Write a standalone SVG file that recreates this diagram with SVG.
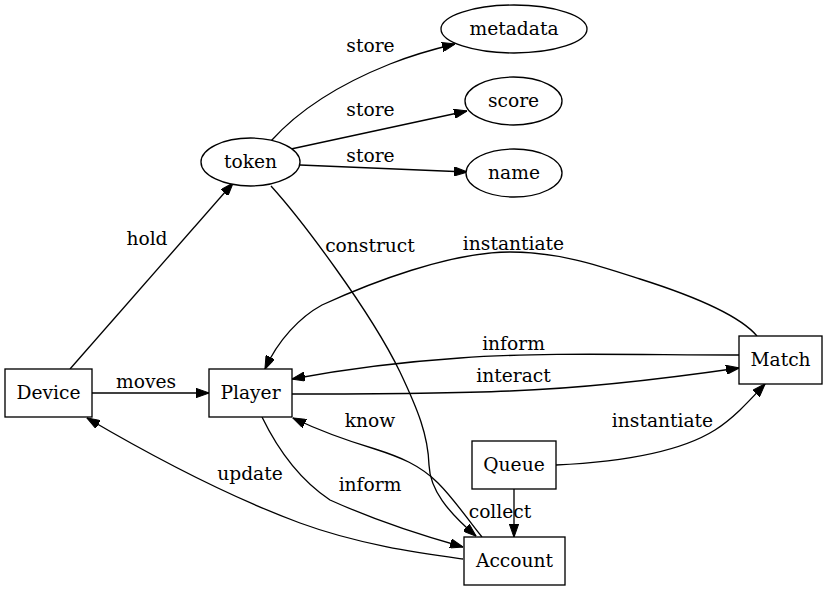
<svg xmlns="http://www.w3.org/2000/svg" width="827" height="591" viewBox="0 0 827 591">
<style>
.n{fill:#fff;stroke:#000;stroke-width:1.33}
.e{fill:none;stroke:#000;stroke-width:1.33}
text{font-family:"DejaVu Serif","Liberation Serif",serif;font-size:18.67px;fill:#000;text-anchor:middle}
</style>
<defs>
<marker id="ah" viewBox="0 0 13.3 9.34" markerWidth="13.3" markerHeight="9.34" refX="13" refY="4.67" orient="auto" markerUnits="userSpaceOnUse">
<path d="M0,0 L13.3,4.67 L0,9.34 z" fill="#000" stroke="#000" stroke-width="1"/>
</marker>
</defs>
<rect width="827" height="591" fill="#fff"/>
<g id="edges">
<path class="e" marker-end="url(#ah)" d="M271,141 C305,103 350,80 390,64 C410,56 430,50 455,44"/>
<text x="370.5" y="52">store</text>
<path class="e" marker-end="url(#ah)" d="M291,149 L467,111"/>
<text x="370.5" y="116">store</text>
<path class="e" marker-end="url(#ah)" d="M300,165 L467,172"/>
<text x="370.5" y="162">store</text>
<path class="e" marker-end="url(#ah)" d="M70,369 L233,183"/>
<text x="147" y="245">hold</text>
<path class="e" marker-end="url(#ah)" d="M92,393 L209,393"/>
<text x="146" y="388">moves</text>
<path class="e" marker-end="url(#ah)" d="M271,186 C300,218 370,310 400,372 C418,410 428,435 429,465 C430,490 448,512 476,536"/>
<text x="370" y="252">construct</text>
<path class="e" marker-end="url(#ah)" d="M482,537 C468,520 455,500 438,483 C420,465 400,457 375,449 C345,440 318,430 293,418"/>
<text x="370" y="427">know</text>
<path class="e" marker-end="url(#ah)" d="M262,417 C278,450 300,480 330,500 C370,518 420,535 463,547"/>
<text x="370" y="491">inform</text>
<path class="e" marker-end="url(#ah)" d="M463,559 C420,553 360,545 300,523 C230,497 150,455 87,418"/>
<text x="250" y="480">update</text>
<path class="e" marker-end="url(#ah)" d="M757,336 C740,316 700,298 640,279 C600,266 560,252 510,252 C450,252 370,283 322,305 C300,317 278,340 265,369"/>
<text x="513.5" y="250">instantiate</text>
<path class="e" marker-end="url(#ah)" d="M739,355 C640,355 540,352 460,358 C400,362 340,370 292,379"/>
<text x="513.5" y="350">inform</text>
<path class="e" marker-end="url(#ah)" d="M292,394 C350,394 440,394 510,391 C590,388 670,378 739,368"/>
<text x="513.5" y="382">interact</text>
<path class="e" marker-end="url(#ah)" d="M556,465 C620,462 680,452 715,430 C735,417 750,400 765,384"/>
<text x="662.5" y="427">instantiate</text>
<path class="e" marker-end="url(#ah)" d="M514,489 L514,537"/>
<text x="500" y="518">collect</text>
</g>
<g id="metadata"><ellipse class="n" cx="514" cy="29" rx="73" ry="24"/><text x="514" y="35">metadata</text></g>
<g id="score"><ellipse class="n" cx="513.5" cy="101" rx="48.5" ry="24"/><text x="513.5" y="107">score</text></g>
<g id="name"><ellipse class="n" cx="514" cy="173" rx="48" ry="24"/><text x="514" y="179">name</text></g>
<g id="token"><ellipse class="n" cx="250.5" cy="162" rx="49.5" ry="24"/><text x="250.5" y="168">token</text></g>
<g id="Device"><rect class="n" x="5" y="369" width="87" height="48"/><text x="48.5" y="399">Device</text></g>
<g id="Player"><rect class="n" x="209" y="369" width="83" height="48"/><text x="250.5" y="399">Player</text></g>
<g id="Match"><rect class="n" x="739" y="336" width="83" height="48"/><text x="780.5" y="366">Match</text></g>
<g id="Queue"><rect class="n" x="472" y="441" width="84" height="48"/><text x="514" y="471">Queue</text></g>
<g id="Account"><rect class="n" x="464" y="537" width="101" height="48"/><text x="514.5" y="567">Account</text></g>
</svg>
